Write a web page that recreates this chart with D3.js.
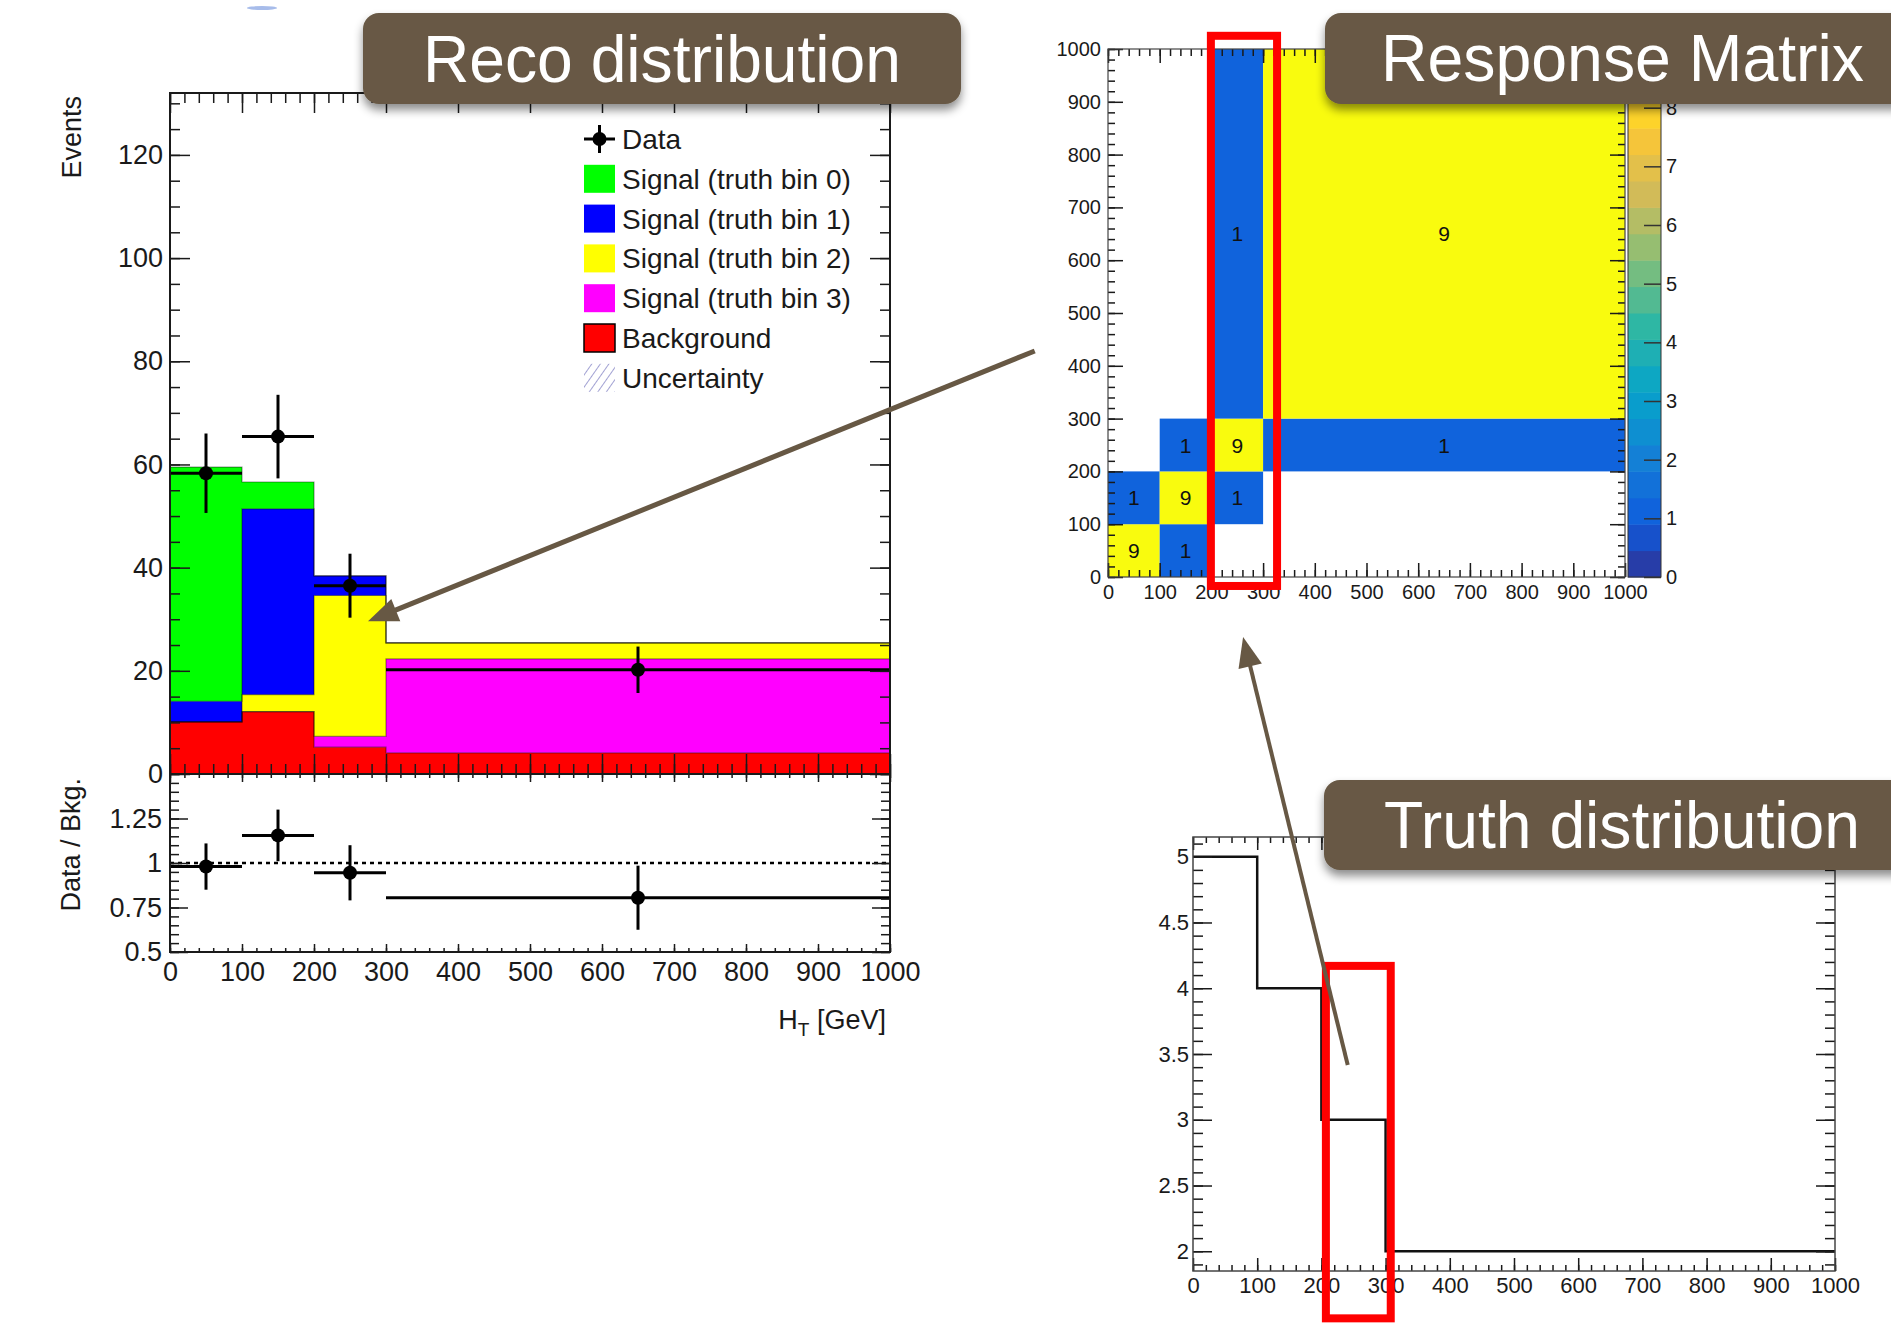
<!DOCTYPE html>
<html><head><meta charset="utf-8">
<script src="https://cdn.jsdelivr.net/npm/d3@7"></script>
<style>html,body{margin:0;padding:0;background:#fff;} svg{display:block;}</style>
</head><body>
<svg id="chart" width="1891" height="1323"></svg>
<script>
// ---------------- data ----------------
const binEdges = [0, 100, 200, 300, 1000];
const background = [10.1, 12.1, 5.2, 4.1];
const signalTruthBin3 = [0, 0, 2.1, 18.2];
const signalTruthBin2 = [0, 3.3, 27.3, 3.1];
const signalTruthBin1 = [4.0, 36.0, 3.8, 0];
const signalTruthBin0 = [45.4, 5.2, 0, 0];
const dataCounts = [58.3, 65.4, 36.5, 20.2];
const dataErrors = [7.7, 8.1, 6.2, 4.5];
const ratioValues = [0.98, 1.155, 0.945, 0.805];
const ratioErrors = [0.13, 0.145, 0.155, 0.18];
const legendLabels = ["Data", "Signal (truth bin 0)", "Signal (truth bin 1)", "Signal (truth bin 2)", "Signal (truth bin 3)", "Background", "Uncertainty"];
const htTickLabels = [0, 100, 200, 300, 400, 500, 600, 700, 800, 900, 1000];
const eventsTickLabels = [0, 20, 40, 60, 80, 100, 120];
const ratioTickLabels = [0.5, 0.75, 1, 1.25];
const responseTruthBin = [0, 1, 0, 1, 2, 1, 2, 3, 2, 3];
const responseRecoBin  = [0, 0, 1, 1, 1, 2, 2, 2, 3, 3];
const responseValues   = [9, 1, 1, 9, 1, 1, 9, 1, 1, 9];
const paletteTickLabels = [0, 1, 2, 3, 4, 5, 6, 7, 8];
const truthValues = [5, 4, 3, 2];
const truthTickLabels = [2, 2.5, 3, 3.5, 4, 4.5, 5];
const matrixTickLabels = [0, 100, 200, 300, 400, 500, 600, 700, 800, 900, 1000];
// annotations (in panel data coordinates)
const recoArrow = [[1201, 82.0], [275, 29.6]];
const truthArrow = [[241, 3.416], [78, 6.67]];
const matrixHighlight = [[199, -17], [327, 1025]];
const truthHighlight = [[207, 4.17], [308, 1.49]];

// ---------------- setup ----------------
const FONT = "'Liberation Sans', Arial, Helvetica, sans-serif";
const svg = d3.select('#chart');
svg.append('rect').attr('width', 1891).attr('height', 1323).attr('fill', '#fff');
const defs = svg.append('defs');
const f = defs.append('filter').attr('id', 'shadow').attr('x', '-10%').attr('y', '-30%').attr('width', '120%').attr('height', '170%');
f.append('feDropShadow').attr('dx', 0).attr('dy', 6).attr('stdDeviation', 5).attr('flood-color', '#000').attr('flood-opacity', 0.45);
const hatch = defs.append('pattern').attr('id', 'hatch').attr('width', 7).attr('height', 7)
  .attr('patternUnits', 'userSpaceOnUse').attr('patternTransform', 'rotate(35)');
hatch.append('line').attr('x1', 0).attr('y1', 0).attr('x2', 0).attr('y2', 7).attr('stroke', '#8a8ac8').attr('stroke-width', 1.6);

const INK = '#1a1a1a';
function innerTicks(parent, axisFn, scale, values, size, transform) {
  parent.append('g').attr('transform', transform)
    .call(axisFn(scale).tickValues(values).tickSize(-size).tickFormat(''))
    .call(g => g.select('.domain').remove())
    .call(g => g.selectAll('line').attr('stroke', INK).attr('stroke-width', 1.5));
}
function tickLabels(parent, axisFn, scale, values, transform, fontSize, padding, fmt) {
  parent.append('g').attr('transform', transform)
    .call(axisFn(scale).tickValues(values).tickSize(0).tickPadding(padding).tickFormat(fmt || (d => String(d))))
    .call(g => g.select('.domain').remove())
    .call(g => g.selectAll('line').remove())
    .call(g => g.selectAll('text').attr('font-family', FONT).attr('font-size', fontSize).attr('fill', INK));
}
function frame(parent, x0, y0, x1, y1) {
  parent.append('rect').attr('x', x0).attr('y', y0).attr('width', x1 - x0).attr('height', y1 - y0)
    .attr('fill', 'none').attr('stroke', INK).attr('stroke-width', 2);
}

// ---------------- Reco distribution ----------------
const xReco = d3.scaleLinear([0, 1000], [170, 890]);
const yMain = d3.scaleLinear([0, 132], [774, 93]);
const yRatio = d3.scaleLinear([0.5, 1.5], [952, 774]);
const reco = svg.append('g');

const keys = ['bkg', 'sig3', 'sig2', 'sig1', 'sig0'];
const colors = { bkg: '#ff0000', sig3: '#ff00ff', sig2: '#ffff00', sig1: '#0000ff', sig0: '#00ff00' };
const rows = binEdges.slice(0, -1).map((e, i) => ({
  lo: e, hi: binEdges[i + 1],
  bkg: background[i], sig3: signalTruthBin3[i], sig2: signalTruthBin2[i], sig1: signalTruthBin1[i], sig0: signalTruthBin0[i]
}));
const stacked = d3.stack().keys(keys)(rows);
stacked.forEach(layer => {
  reco.append('g').selectAll('rect').data(layer.filter(d => d[1] - d[0] > 0)).join('rect')
    .attr('x', d => xReco(d.data.lo)).attr('width', d => xReco(d.data.hi) - xReco(d.data.lo))
    .attr('y', d => yMain(d[1])).attr('height', d => yMain(d[0]) - yMain(d[1]))
    .attr('fill', colors[layer.key]);
});
const stepLine = d3.line().curve(d3.curveStepAfter);
stacked.forEach(layer => {
  const pts = layer.map(d => [xReco(d.data.lo), yMain(d[1])]);
  pts.push([xReco(1000), yMain(layer[layer.length - 1][1])]);
  reco.append('path').attr('d', stepLine(pts)).attr('fill', 'none').attr('stroke', '#000').attr('stroke-opacity', 0.4).attr('stroke-width', 1.2);
});

// data points
function drawPoints(g, yS, vals, errs) {
  const pts = vals.map((v, i) => ({ lo: binEdges[i], hi: binEdges[i + 1], v, e: errs[i] }));
  g.append('g').selectAll('line').data(pts).join('line')
    .attr('x1', d => xReco(d.lo)).attr('x2', d => xReco(d.hi)).attr('y1', d => yS(d.v)).attr('y2', d => yS(d.v))
    .attr('stroke', '#000').attr('stroke-width', 3);
  g.append('g').selectAll('line').data(pts).join('line')
    .attr('x1', d => xReco((d.lo + d.hi) / 2)).attr('x2', d => xReco((d.lo + d.hi) / 2))
    .attr('y1', d => yS(d.v - d.e)).attr('y2', d => yS(d.v + d.e))
    .attr('stroke', '#000').attr('stroke-width', 3);
  g.append('g').selectAll('circle').data(pts).join('circle')
    .attr('cx', d => xReco((d.lo + d.hi) / 2)).attr('cy', d => yS(d.v)).attr('r', 7).attr('fill', '#000');
}
drawPoints(reco, yMain, dataCounts, dataErrors);

// main axes ticks
const xMinor = d3.range(0, 1001, 20);
const xMajor = d3.range(0, 1001, 100);
innerTicks(reco, d3.axisBottom, xReco, xMinor, 10, 'translate(0,774)');
innerTicks(reco, d3.axisBottom, xReco, xMajor, 20, 'translate(0,774)');
innerTicks(reco, d3.axisTop, xReco, xMinor, 10, 'translate(0,93)');
innerTicks(reco, d3.axisTop, xReco, xMajor, 20, 'translate(0,93)');
const yMinor = d3.range(0, 131, 5);
innerTicks(reco, d3.axisLeft, yMain, yMinor, 10, 'translate(170,0)');
innerTicks(reco, d3.axisLeft, yMain, eventsTickLabels, 20, 'translate(170,0)');
innerTicks(reco, d3.axisRight, yMain, yMinor, 10, 'translate(890,0)');
innerTicks(reco, d3.axisRight, yMain, eventsTickLabels, 20, 'translate(890,0)');
frame(reco, 170, 93, 890, 774);
tickLabels(reco, d3.axisLeft, yMain, eventsTickLabels, 'translate(170,0)', 27, 7);

// ratio pad
const ratio = svg.append('g');
ratio.append('line').attr('x1', xReco(0)).attr('x2', xReco(1000)).attr('y1', yRatio(1)).attr('y2', yRatio(1))
  .attr('stroke', '#000').attr('stroke-width', 2.5).attr('stroke-dasharray', '4 4');
drawPoints(ratio, yRatio, ratioValues, ratioErrors);
innerTicks(ratio, d3.axisBottom, xReco, xMinor, 4, 'translate(0,952)');
innerTicks(ratio, d3.axisBottom, xReco, xMajor, 8, 'translate(0,952)');
innerTicks(ratio, d3.axisTop, xReco, xMinor, 4, 'translate(0,774)');
innerTicks(ratio, d3.axisTop, xReco, xMajor, 8, 'translate(0,774)');
const rMinor = d3.range(0, 21).map(i => 0.5 + i * 0.05);
innerTicks(ratio, d3.axisLeft, yRatio, rMinor, 9, 'translate(170,0)');
innerTicks(ratio, d3.axisLeft, yRatio, ratioTickLabels, 18, 'translate(170,0)');
innerTicks(ratio, d3.axisRight, yRatio, rMinor, 9, 'translate(890,0)');
innerTicks(ratio, d3.axisRight, yRatio, ratioTickLabels, 18, 'translate(890,0)');
frame(ratio, 170, 774, 890, 952);
tickLabels(ratio, d3.axisLeft, yRatio, ratioTickLabels, 'translate(170,0)', 27, 8);
tickLabels(ratio, d3.axisBottom, xReco, htTickLabels, 'translate(0,952)', 27, 10);

// axis titles
svg.append('text').attr('transform', 'translate(81,96) rotate(-90)').attr('text-anchor', 'end')
  .attr('font-family', FONT).attr('font-size', 27).attr('fill', INK).text('Events');
svg.append('text').attr('transform', 'translate(80,778) rotate(-90)').attr('text-anchor', 'end')
  .attr('font-family', FONT).attr('font-size', 27).attr('fill', INK).text('Data / Bkg.');
const ht = svg.append('text').attr('x', 886).attr('y', 1029).attr('text-anchor', 'end')
  .attr('font-family', FONT).attr('font-size', 27).attr('fill', INK);
ht.append('tspan').text('H');
ht.append('tspan').attr('font-size', 19).attr('dy', 7).text('T');
ht.append('tspan').attr('dy', -7).text(' [GeV]');

// legend
const legend = svg.append('g').attr('font-family', FONT).attr('font-size', 28).attr('fill', INK);
const legendFill = [null, colors.sig0, colors.sig1, colors.sig2, colors.sig3, colors.bkg, 'url(#hatch)'];
legendLabels.forEach((lab, i) => {
  const cy = 139 + i * 39.8;
  if (i === 0) {
    legend.append('line').attr('x1', 584).attr('x2', 615).attr('y1', cy).attr('y2', cy).attr('stroke', '#000').attr('stroke-width', 3);
    legend.append('line').attr('x1', 599.5).attr('x2', 599.5).attr('y1', cy - 14).attr('y2', cy + 14).attr('stroke', '#000').attr('stroke-width', 3);
    legend.append('circle').attr('cx', 599.5).attr('cy', cy).attr('r', 7).attr('fill', '#000');
  } else {
    legend.append('rect').attr('x', 584).attr('y', cy - 14).attr('width', 31).attr('height', 28)
      .attr('fill', legendFill[i]).attr('stroke', i === 5 ? '#000' : 'none').attr('stroke-width', 1.5);
  }
  legend.append('text').attr('x', 622).attr('y', cy).attr('dy', '0.36em').text(lab);
});

// ---------------- Response matrix ----------------
const xM = d3.scaleLinear([0, 1000], [1108, 1625]);
const yM = d3.scaleLinear([0, 1000], [577, 49]);
const zPal = d3.scaleLinear([0, 9], [577, 49]);
const birdStops = [[0.2082, 0.1664, 0.5293], [0.0592, 0.3599, 0.8684], [0.0780, 0.5041, 0.8385], [0.0232, 0.6419, 0.7914],
  [0.1802, 0.7178, 0.6425], [0.5301, 0.7492, 0.4662], [0.8186, 0.7328, 0.3499], [0.9956, 0.7862, 0.1968], [0.9764, 0.9832, 0.0539]];
const bird = d3.scaleLinear().domain(d3.range(9).map(i => i / 8))
  .range(birdStops.map(c => d3.rgb(c[0] * 255, c[1] * 255, c[2] * 255).formatHex())).interpolate(d3.interpolateRgb);
const nCont = 20, zMax = 9;
const contourColor = k => bird(Math.min(Math.floor((k + 0.99) * 255 / nCont), 254) / 254);
const cellColor = v => contourColor(Math.min(Math.floor(v / (zMax / nCont)), nCont - 1));

const mat = svg.append('g');
const cells = responseValues.map((v, i) => ({ tx: responseTruthBin[i], ry: responseRecoBin[i], v }));
mat.selectAll('rect.cell').data(cells).join('rect').attr('class', 'cell')
  .attr('x', d => xM(binEdges[d.tx])).attr('width', d => xM(binEdges[d.tx + 1]) - xM(binEdges[d.tx]))
  .attr('y', d => yM(binEdges[d.ry + 1])).attr('height', d => yM(binEdges[d.ry]) - yM(binEdges[d.ry + 1]))
  .attr('fill', d => cellColor(d.v));
mat.selectAll('text.cell').data(cells).join('text').attr('class', 'cell')
  .attr('x', d => xM((binEdges[d.tx] + binEdges[d.tx + 1]) / 2))
  .attr('y', d => yM((binEdges[d.ry] + binEdges[d.ry + 1]) / 2))
  .attr('dy', '0.36em').attr('text-anchor', 'middle')
  .attr('font-family', FONT).attr('font-size', 21).attr('fill', '#111').text(d => d.v);
const mMinor = d3.range(0, 1001, 20);
innerTicks(mat, d3.axisBottom, xM, mMinor, 7, 'translate(0,577)');
innerTicks(mat, d3.axisBottom, xM, matrixTickLabels, 14, 'translate(0,577)');
innerTicks(mat, d3.axisTop, xM, mMinor, 7, 'translate(0,49)');
innerTicks(mat, d3.axisTop, xM, matrixTickLabels, 14, 'translate(0,49)');
innerTicks(mat, d3.axisLeft, yM, mMinor, 7, 'translate(1108,0)');
innerTicks(mat, d3.axisLeft, yM, matrixTickLabels, 15, 'translate(1108,0)');
innerTicks(mat, d3.axisRight, yM, mMinor, 7, 'translate(1625,0)');
innerTicks(mat, d3.axisRight, yM, matrixTickLabels, 15, 'translate(1625,0)');
mat.append('rect').attr('x', 1108).attr('y', 49).attr('width', 517).attr('height', 528).attr('fill', 'none').attr('stroke', '#444').attr('stroke-width', 1.2);
tickLabels(mat, d3.axisLeft, yM, matrixTickLabels, 'translate(1108,0)', 20, 7);
tickLabels(mat, d3.axisBottom, xM, matrixTickLabels, 'translate(0,577)', 20, 8);

// palette
const bands = d3.range(nCont).map(k => ({ k, lo: k * zMax / nCont, hi: (k + 1) * zMax / nCont }));
mat.append('g').selectAll('rect').data(bands).join('rect')
  .attr('x', 1628).attr('width', 33).attr('y', d => zPal(d.hi)).attr('height', d => zPal(d.lo) - zPal(d.hi) + 0.5)
  .attr('fill', d => contourColor(d.k));
mat.append('rect').attr('x', 1628).attr('y', 49).attr('width', 33).attr('height', 528).attr('fill', 'none').attr('stroke', '#333').attr('stroke-width', 1);
mat.append('g').attr('transform', 'translate(1661,0)')
  .call(d3.axisLeft(zPal).tickValues(paletteTickLabels).tickSize(17).tickFormat(''))
  .call(g => g.select('.domain').remove())
  .call(g => g.selectAll('line').attr('stroke', '#333').attr('stroke-width', 1.5));
tickLabels(mat, d3.axisRight, zPal, paletteTickLabels, 'translate(1661,0)', 20, 5);

// ---------------- Truth distribution ----------------
const xT = d3.scaleLinear([0, 1000], [1193, 1835]);
const yT = d3.scaleLinear([1.85, 5.15], [1271, 837]);
const tr = svg.append('g');
const truthPts = truthValues.map((v, i) => [xT(binEdges[i]), yT(v)]);
truthPts.push([xT(1000), yT(truthValues[truthValues.length - 1])]);
tr.append('path').attr('d', stepLine(truthPts)).attr('fill', 'none').attr('stroke', '#111').attr('stroke-width', 2.5);
innerTicks(tr, d3.axisBottom, xT, mMinor, 6, 'translate(0,1271)');
innerTicks(tr, d3.axisBottom, xT, matrixTickLabels, 13, 'translate(0,1271)');
innerTicks(tr, d3.axisTop, xT, mMinor, 6, 'translate(0,837)');
innerTicks(tr, d3.axisTop, xT, matrixTickLabels, 13, 'translate(0,837)');
const tMinor = d3.range(19, 52).map(i => i / 10);
innerTicks(tr, d3.axisLeft, yT, tMinor, 10, 'translate(1193,0)');
innerTicks(tr, d3.axisLeft, yT, truthTickLabels, 19, 'translate(1193,0)');
innerTicks(tr, d3.axisRight, yT, tMinor, 10, 'translate(1835,0)');
innerTicks(tr, d3.axisRight, yT, truthTickLabels, 19, 'translate(1835,0)');
tr.append('rect').attr('x', 1193).attr('y', 837).attr('width', 642).attr('height', 434).attr('fill', 'none').attr('stroke', '#444').attr('stroke-width', 1.5);
tickLabels(tr, d3.axisLeft, yT, truthTickLabels, 'translate(1193,0)', 22, 4);
tickLabels(tr, d3.axisBottom, xT, matrixTickLabels, 'translate(0,1271)', 22, 6);

// ---------------- annotations ----------------
const ann = svg.append('g');
function hiRect(xs, ys, a, b) {
  ann.append('rect').attr('x', xs(a[0])).attr('y', ys(a[1])).attr('width', xs(b[0]) - xs(a[0])).attr('height', ys(b[1]) - ys(a[1]))
    .attr('fill', 'none').attr('stroke', '#ff0000').attr('stroke-width', 8);
}
hiRect(xM, yM, [matrixHighlight[0][0], matrixHighlight[1][1]], [matrixHighlight[1][0], matrixHighlight[0][1]]);
hiRect(xT, yT, truthHighlight[0], truthHighlight[1]);

const BROWN = '#675844';
function arrow(x1, y1, x2, y2, w, hl, hw) {
  const dx = x2 - x1, dy = y2 - y1, L = Math.hypot(dx, dy), ux = dx / L, uy = dy / L;
  const bx = x2 - ux * hl, by = y2 - uy * hl;
  ann.append('line').attr('x1', x1).attr('y1', y1).attr('x2', bx + ux * 3).attr('y2', by + uy * 3)
    .attr('stroke', BROWN).attr('stroke-width', w);
  ann.append('path').attr('d', `M${x2},${y2}L${bx - uy * hw},${by + ux * hw}L${bx + uy * hw},${by - ux * hw}Z`).attr('fill', BROWN);
}
arrow(xReco(recoArrow[0][0]), yMain(recoArrow[0][1]), xReco(recoArrow[1][0]), yMain(recoArrow[1][1]), 5, 30, 12);
arrow(xT(truthArrow[0][0]), yT(truthArrow[0][1]), xT(truthArrow[1][0]), yT(truthArrow[1][1]), 4, 30, 12);

// callout boxes
function callout(x, y, w, h, label, tx, ty, anchor, tl) {
  const g = svg.append('g');
  g.append('rect').attr('x', x).attr('y', y).attr('width', w).attr('height', h).attr('rx', 16)
    .attr('fill', BROWN).attr('filter', 'url(#shadow)');
  g.append('text').attr('x', tx).attr('y', ty).attr('text-anchor', anchor)
    .attr('font-family', FONT).attr('font-size', 67).attr('fill', '#fff')
    .attr('textLength', tl).attr('lengthAdjust', 'spacingAndGlyphs').text(label);
}
callout(363, 13, 598, 91, 'Reco distribution', 662, 82, 'middle', 478);
callout(1325, 13, 620, 91, 'Response Matrix', 1381, 81, 'start', 483);
callout(1324, 780, 620, 90, 'Truth distribution', 1384, 848, 'start', 476);

// small artifacts
svg.append('ellipse').attr('cx', 262).attr('cy', 8).attr('rx', 15).attr('ry', 2).attr('fill', '#6d8fdc').attr('opacity', 0.6);
</script>
</body></html>
